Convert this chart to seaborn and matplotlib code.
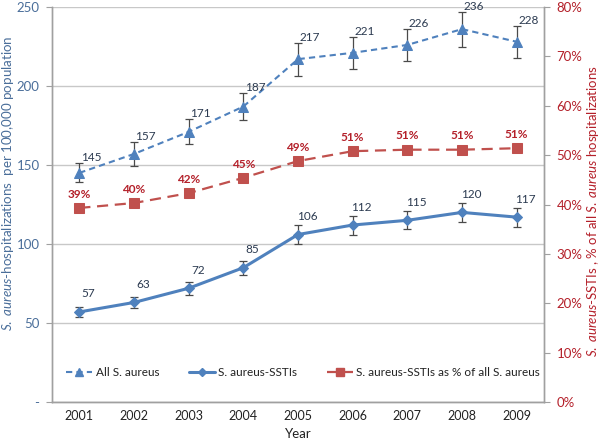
import matplotlib
matplotlib.use("Agg")
import matplotlib.pyplot as plt
import seaborn as sns
import numpy as np
from matplotlib.lines import Line2D

years = ["2001", "2002", "2003", "2004", "2005", "2006", "2007", "2008", "2009"]
all_sa = [145, 157, 171, 187, 217, 221, 226, 236, 228]
all_sa_err = [6, 7.5, 8, 8.5, 10.5, 10, 10, 11, 10]
ssti = [57, 63, 72, 85, 106, 112, 115, 120, 117]
ssti_err = [3, 3.5, 4, 4.5, 6, 6, 5.6, 6, 6]
pct = [39.3, 40.3, 42.3, 45.4, 48.8, 50.8, 51.1, 51.1, 51.4]
pct_labels = ["39%", "40%", "42%", "45%", "49%", "51%", "51%", "51%", "51%"]
left_ticks = [0, 50, 100, 150, 200, 250]
left_ticklabels = ["-", "50", "100", "150", "200", "250"]
right_ticks = [0, 10, 20, 30, 40, 50, 60, 70, 80]

sns.set_style("white")
plt.rcParams['font.family'] = ['Lato', 'DejaVu Sans']
plt.rcParams['mathtext.fontset'] = 'custom'
plt.rcParams['mathtext.it'] = 'Lato:italic'
plt.rcParams['mathtext.rm'] = 'Lato'

BLUE = "#4F81BD"
RED = "#C0504D"
LBLUE = "#4A6E9A"
DRED = "#B4202A"
DARK = "#2B3A50"
GRID = "#C8C8C8"

fig = plt.figure(figsize=(6, 4.41), dpi=100)
ax = fig.add_axes([52/600, 1-402/441, (544-52)/600, (402-7)/441])
ax2 = ax.twinx()

x = np.arange(len(years))

sns.lineplot(x=x, y=all_sa, ax=ax, color=BLUE, linestyle=(0, (3, 2)), linewidth=1.5,
             marker='^', markersize=7, markeredgecolor=BLUE, zorder=3)
ax.errorbar(x, all_sa, yerr=all_sa_err, fmt='none', ecolor="#4a4a4a", elinewidth=0.9,
            capsize=3, capthick=0.9, zorder=2)
sns.lineplot(x=x, y=ssti, ax=ax, color=BLUE, linestyle='-', linewidth=2.2,
             marker='D', markersize=5.5, markeredgecolor=BLUE, zorder=3)
ax.errorbar(x, ssti, yerr=ssti_err, fmt='none', ecolor="#4a4a4a", elinewidth=0.9,
            capsize=3, capthick=0.9, zorder=2)
sns.lineplot(x=x, y=pct, ax=ax2, color=RED, linestyle=(0, (5, 3)), linewidth=1.6,
             marker='s', markersize=6.5, markeredgecolor=RED, zorder=3)

# data labels
for i in range(len(x)):
    ax.annotate(str(all_sa[i]), (x[i], all_sa[i] + all_sa_err[i]), xytext=(1, 0),
                textcoords='offset points', ha='left', va='bottom', fontsize=8.5, color=DARK)
    ax.annotate(str(ssti[i]), (x[i], ssti[i]), xytext=(6.5, 9),
                textcoords='offset points', ha='center', va='bottom', fontsize=8.5, color=DARK)
    ax2.annotate(pct_labels[i], (x[i], pct[i]), xytext=(0, 6),
                 textcoords='offset points', ha='center', va='bottom', fontsize=8.5,
                 color=DRED, fontweight='bold')

ax.set_xlim(-0.5, len(years) - 0.5)
ax.set_ylim(0, 250)
ax2.set_ylim(0, 80)
ax2.set_xlim(-0.5, len(years) - 0.5)

ax.set_yticks(left_ticks)
ax.set_yticklabels(left_ticklabels, color=LBLUE, fontsize=9.5)
ax2.set_yticks(right_ticks)
ax2.set_yticklabels([f"{t}%" for t in right_ticks], color=DRED, fontsize=9.5)
ax.set_xticks(x)
ax.set_xticklabels(years, fontsize=9, color="#222222")
ax.set_xticks(np.arange(-0.5, len(years), 1), minor=True)
ax.tick_params(axis='x', which='major', length=0, pad=6)
ax.tick_params(axis='x', which='minor', length=4, color="#A0A0A0", direction='out')
ax.tick_params(axis='y', length=4, color="#A0A0A0", direction='out', pad=5)
ax2.tick_params(axis='y', length=4, color="#A0A0A0", direction='out', pad=5)

ax.yaxis.grid(True, color=GRID, linewidth=1)
ax.set_axisbelow(True)
for a in (ax, ax2):
    a.spines['top'].set_visible(False)
    for s in ('left', 'right', 'bottom'):
        a.spines[s].set_color("#A0A0A0")
        a.spines[s].set_linewidth(1)

ax.set_xlabel("Year", fontsize=9.5, color="#222222", labelpad=4)
ax.set_ylabel(r"$\it{S.\ aureus}$-hospitalizations  per 100,000 population",
              fontsize=9.6, color=LBLUE)
ax.yaxis.set_label_coords(-0.074, 0.555)
ax2.set_ylabel(r"$\it{S.\ aureus}$-SSTIs , % of all $\it{S.\ aureus}$ hospitalizations",
               fontsize=9.5, color=DRED)
ax2.yaxis.set_label_coords(1.084, 0.484)

handles = [
    Line2D([], [], color=BLUE, linestyle=(0, (3, 2)), linewidth=1.5, marker='^', markersize=6),
    Line2D([], [], color=BLUE, linestyle='-', linewidth=2.2, marker='D', markersize=4.5),
    Line2D([], [], color=RED, linestyle=(0, (5, 3)), linewidth=1.6, marker='s', markersize=6),
]
labels = ["All S. aureus", "S. aureus-SSTIs", "S. aureus-SSTIs as % of all S. aureus"]
ax.legend(handles, labels, loc='center', bbox_to_anchor=(0.51, 0.075), ncol=3,
          frameon=False, fontsize=8.5, handlelength=2.2, columnspacing=2.5,
          handletextpad=0.3, labelcolor="#222222")

fig.savefig("out.png", dpi=100)
